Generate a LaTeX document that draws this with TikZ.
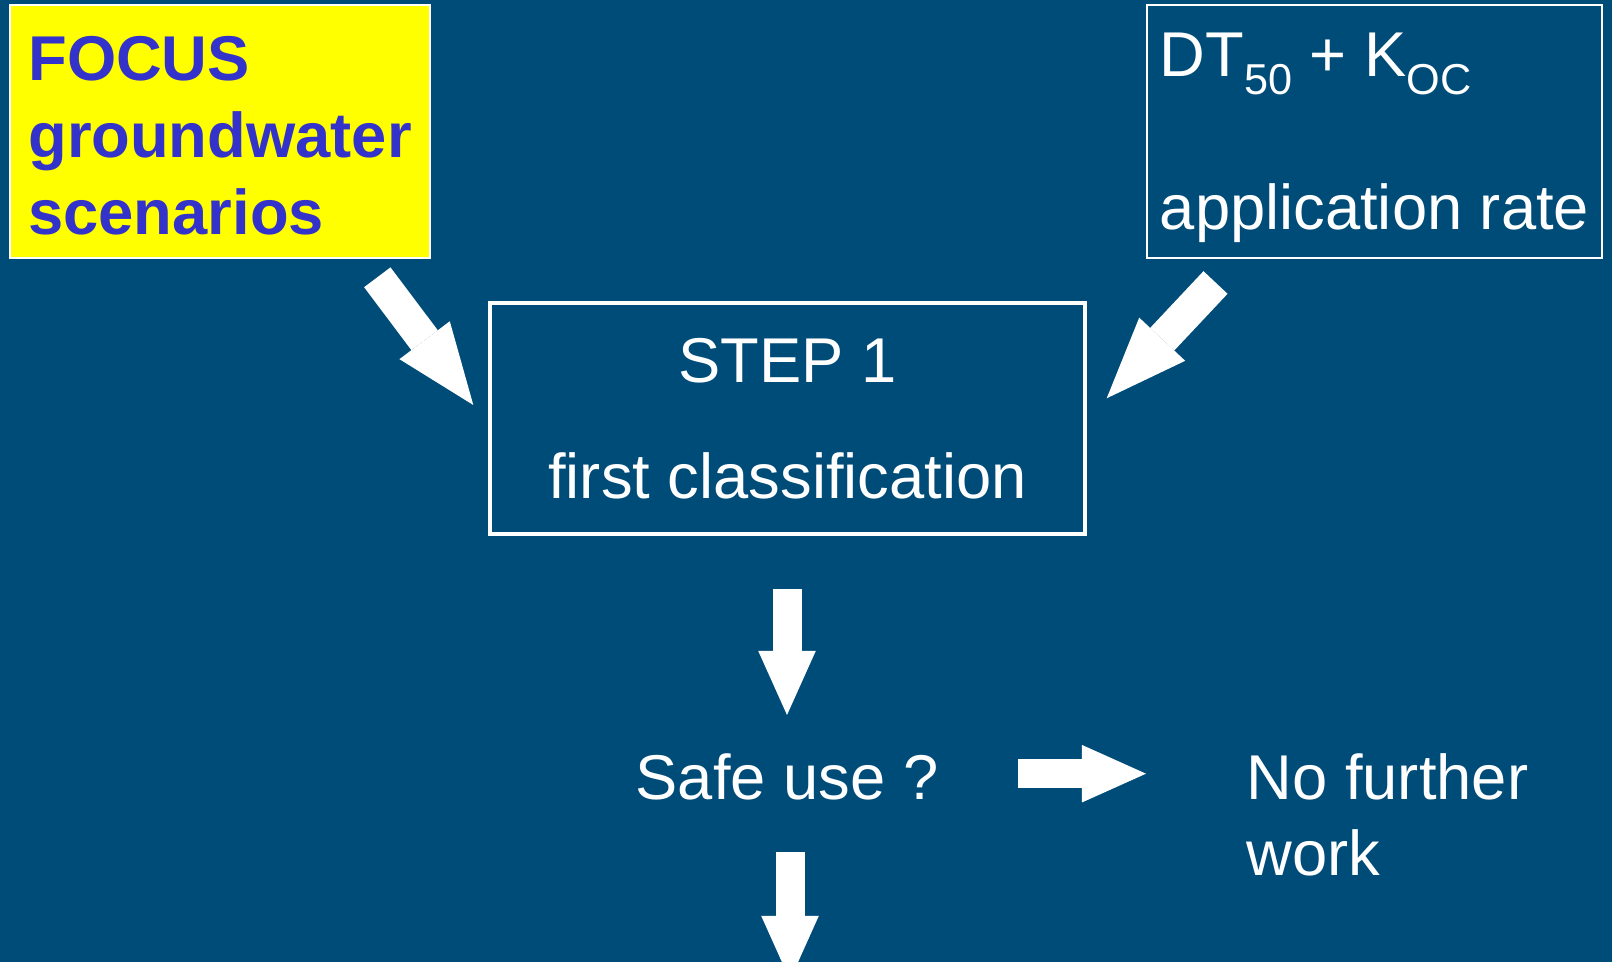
\documentclass[tikz,border=0pt]{standalone}
\usepackage{fontspec}
\setmainfont{Liberation Sans}
\usepackage{tikz}
\usetikzlibrary{arrows.meta,positioning}
\definecolor{slideBlue}  {RGB}{0,   76, 121}
\definecolor{focusYellow}{RGB}{255, 255,  0}
\definecolor{focusText}  {RGB}{51,  51, 204}
\newcommand{\lowidx}[1]{\raisebox{-5pt}{\fontsize{12.3}{13}\selectfont #1}}

\begin{document}
\begin{tikzpicture}[x=0.01cm,y=-0.01cm,
    every node/.style={font=\fontsize{18}{21.8}\selectfont,text=white},
    inbox/.style={draw=white,line width=0.6pt,align=left,minimum height=2.53cm},
    flowarrow/.style={draw=white,line width=0.29cm,
      -{Triangle[length=0.64cm,width=0.575cm,line width=0pt]}},
    diagarrow/.style={draw=white,line width=0.33cm,
      -{Triangle[length=0.81cm,width=0.63cm,line width=0pt]}}]
  % Hintergrund
  \useasboundingbox (0,0) rectangle (1612,962);
  \fill[slideBlue] (0,0) rectangle (1612,962);
  \clip (0,0) rectangle (1612,962);

  % Eingaben
  \node[inbox,fill=focusYellow,text=focusText,minimum width=4.2cm,
    font=\fontsize{18}{21.8}\selectfont\bfseries] (focus) at (220,131.5)
    {\rule{0pt}{15pt}FOCUS\\groundwater\\scenarios};
  \node[inbox,minimum width=4.55cm,text depth=0pt] (params) at (1374.5,131.5)
    {DT\lowidx{50} + K\lowidx{OC}\\[21.8pt]application rate};

  % Stufe 1
  \node[draw=white,line width=1.3pt,align=center,
    minimum width=5.95cm,minimum height=2.31cm] (step1) at (787.5,418.5)
    {STEP 1\\[11.2pt]first classification};
  \node[anchor=base,inner sep=0pt] (safe) at (787,800) {Safe use ?};
  \node[anchor=west,inner sep=0pt,align=left] (stop) at (1246,815)
    {No further\\work};

  % Pfeile (Anfang, Spitze)
  \coordinate (focusout)  at (377.3,277.3);
  \coordinate (stepinA)   at (473.3,405);
  \coordinate (paramsout) at (1215.5,282.5);
  \coordinate (stepinB)   at (1106.7,398.3);
  \coordinate (stepout)   at (787,589);
  \coordinate (safein)    at (787,715);
  \coordinate (safeyes)   at (1018.3,773.7);
  \coordinate (stopin)    at (1146,773.7);
  \coordinate (safeno)    at (790,852.3);
  \coordinate (nextin)    at (790,980);
  \draw[diagarrow] (focusout) -- (stepinA);
  \draw[diagarrow] (paramsout) -- (stepinB);
  \draw[flowarrow] (stepout) -- (safein);
  \draw[flowarrow] (safeyes) -- (stopin);
  \draw[flowarrow] (safeno) -- (nextin);
\end{tikzpicture}
\end{document}
